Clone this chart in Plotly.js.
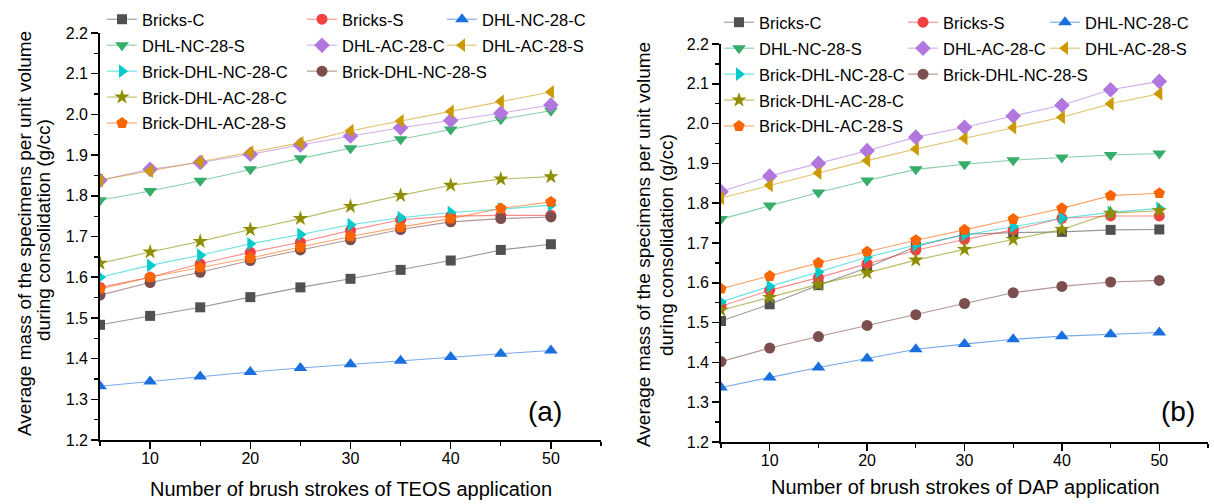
<!DOCTYPE html>
<html><head><meta charset="utf-8">
<script src="https://cdn.plot.ly/plotly-3.0.1.min.js"></script>
<style>html,body{margin:0;padding:0;background:#fff}#chart{width:1214px;height:504px}</style>
</head><body><div id="chart"></div>
<script>
// ---- data ----
const strokes = [5, 10, 15, 20, 25, 30, 35, 40, 45, 50];
const seriesNames = ['Bricks-C','Bricks-S','DHL-NC-28-C','DHL-NC-28-S','DHL-AC-28-C','DHL-AC-28-S',
  'Brick-DHL-NC-28-C','Brick-DHL-NC-28-S','Brick-DHL-AC-28-C','Brick-DHL-AC-28-S'];

// (a) TEOS application
const teosBricksC   = [1.483,1.505,1.526,1.551,1.575,1.596,1.618,1.641,1.667,1.681];
const teosBricksS   = [1.575,1.600,1.633,1.661,1.686,1.715,1.741,1.750,1.752,1.752];
const teosDhlNcC    = [1.332,1.344,1.356,1.367,1.377,1.386,1.395,1.404,1.412,1.420];
const teosDhlNcS    = [1.789,1.812,1.837,1.865,1.892,1.917,1.939,1.963,1.988,2.009];
const teosDhlAcC    = [1.838,1.865,1.882,1.902,1.925,1.947,1.967,1.985,2.003,2.023];
const teosDhlAcS    = [1.838,1.861,1.884,1.907,1.930,1.960,1.984,2.007,2.032,2.055];
const teosBrNcC     = [1.600,1.629,1.654,1.682,1.705,1.729,1.746,1.759,1.767,1.777];
const teosBrNcS     = [1.556,1.587,1.612,1.641,1.667,1.692,1.717,1.736,1.744,1.748];
const teosBrAcC     = [1.634,1.662,1.688,1.717,1.744,1.774,1.801,1.826,1.841,1.847];
const teosBrAcS     = [1.571,1.600,1.624,1.647,1.674,1.700,1.723,1.744,1.769,1.785];

// (b) DAP application
const dapBricksC    = [1.504,1.546,1.594,1.638,1.691,1.722,1.726,1.728,1.733,1.734];
const dapBricksS    = [1.541,1.581,1.613,1.648,1.682,1.709,1.733,1.762,1.768,1.768];
const dapDhlNcC     = [1.337,1.362,1.387,1.410,1.433,1.446,1.458,1.466,1.471,1.475];
const dapDhlNcS     = [1.760,1.794,1.827,1.857,1.885,1.898,1.908,1.915,1.921,1.925];
const dapDhlAcC     = [1.829,1.868,1.900,1.932,1.966,1.991,2.019,2.046,2.085,2.106];
const dapDhlAcS     = [1.813,1.845,1.876,1.907,1.936,1.963,1.990,2.016,2.050,2.075];
const dapBrNcC      = [1.552,1.591,1.627,1.664,1.695,1.720,1.741,1.762,1.777,1.787];
const dapBrNcS      = [1.402,1.436,1.465,1.493,1.520,1.548,1.575,1.591,1.602,1.606];
const dapBrAcC      = [1.531,1.563,1.596,1.625,1.657,1.684,1.709,1.734,1.775,1.781];
const dapBrAcS      = [1.585,1.617,1.650,1.678,1.707,1.733,1.760,1.787,1.819,1.825];

const xTitleA = 'Number of brush strokes of TEOS application';
const xTitleB = 'Number of brush strokes of DAP application';
const yTitle1 = 'Average mass of the specimens per unit volume';
const yTitle2 = 'during consolidation (g/cc)';

// ---- styles ----
const teosSeries = [teosBricksC,teosBricksS,teosDhlNcC,teosDhlNcS,teosDhlAcC,teosDhlAcS,teosBrNcC,teosBrNcS,teosBrAcC,teosBrAcS];
const dapSeries  = [dapBricksC,dapBricksS,dapDhlNcC,dapDhlNcS,dapDhlAcC,dapDhlAcS,dapBrNcC,dapBrNcS,dapBrAcC,dapBrAcS];
const colors  = ['#515151','#F14040','#1A6FDF','#37AD6B','#B177DE','#CC9900','#00CBCC','#7D4E4E','#8E8E00','#FB6501'];
const symbols = ['square','circle','triangle-up','triangle-down','diamond','triangle-left','triangle-right','circle','star','pentagon'];
const sizes   = [10,11,12,12,12,12,12,11,11.5,12];
const legendCol = [0,1,2,0,1,2,0,1,0,0];

function hexA(h, a){const r=parseInt(h.slice(1,3),16),g=parseInt(h.slice(3,5),16),b=parseInt(h.slice(5,7),16);return `rgba(${r},${g},${b},${a})`;}

const legNamesA = ['legend','legend2','legend3'];
const legNamesB = ['legend4','legend5','legend6'];
const traces = [];
function addPanel(series, xa, ya, legs, tag){
  series.forEach((ys,i)=>{
    traces.push({
      type:'scatter', mode:'lines+markers', x:strokes, y:ys, name:seriesNames[i],
      xaxis:xa, yaxis:ya, legend:legs[legendCol[i]], legendgroup:tag+i,
      line:{color:hexA(colors[i],0.6), width:1.1},
      marker:{symbol:symbols[i], size:sizes[i], color:colors[i], line:{width:0}}
    });
  });
}
addPanel(teosSeries,'x','y',legNamesA,'a');
addPanel(dapSeries,'x2','y2',legNamesB,'b');

const W=1214, H=504;
const px = v => v/W, py = v => 1 - v/H;
const FONT = 'Liberation Sans, Arial, sans-serif';

function xAxis(d0,d1,anchor){return {domain:[px(d0),px(d1)], range:[5,55], anchor:anchor, showline:true, linecolor:'#000', linewidth:1.8,
  ticks:'outside', ticklen:7, tickwidth:1.5, tickcolor:'#000', tick0:0, dtick:10, showgrid:false, zeroline:false, ticklabelstandoff:-4,
  tickfont:{size:16,color:'#000',family:FONT}, minor:{ticks:'outside', ticklen:4, tickwidth:1.3, tickcolor:'#000', dtick:5, tick0:0, showgrid:false}};}
function yAxis(top,bot,anchor){return {domain:[py(bot),py(top)], range:[1.2,2.2], anchor:anchor, showline:true, linecolor:'#000', linewidth:1.8,
  ticks:'outside', ticklen:7, tickwidth:1.5, tickcolor:'#000', tick0:1.2, dtick:0.1, tickformat:'.1f', showgrid:false, zeroline:false,
  tickfont:{size:16,color:'#000',family:FONT}, minor:{ticks:'outside', ticklen:4, tickwidth:1.3, tickcolor:'#000', dtick:0.05, tick0:1.2, showgrid:false}};}

function leg(xLeft, yTop){return {x:px(xLeft), y:py(yTop), xanchor:'left', yanchor:'top', bgcolor:'rgba(0,0,0,0)', borderwidth:0,
  font:{size:16.5,color:'#000',family:FONT}, tracegroupgap:1.5, traceorder:'grouped', itemwidth:30};}

const ann = (text,x,y,size,angle)=>({text:text, x:px(x), y:py(y), xref:'paper', yref:'paper', showarrow:false,
  xanchor:'center', yanchor:'middle', textangle:angle||0, font:{size:size,color:'#000',family:FONT}});

const layout = {
  width:W, height:H, margin:{l:0,r:0,t:0,b:0}, paper_bgcolor:'#fff', plot_bgcolor:'rgba(0,0,0,0)',
  font:{family:FONT,color:'#000'}, showlegend:true,
  xaxis:xAxis(100,601,'y'), yaxis:yAxis(33,440,'x'),
  xaxis2:xAxis(721,1208,'y2'), yaxis2:yAxis(44,442,'x2'),
  legend:leg(102,2), legend2:leg(302,2), legend3:leg(442,2),
  legend4:leg(719,5), legend5:leg(903,5), legend6:leg(1045,5),
  annotations:[
    ann('(a)',545,411,28), ann('(b)',1178,411,28),
    ann(xTitleA,351,489,20), ann(xTitleB,965,487,20),
    ann(yTitle1,24,234,19,-90), ann(yTitle2,44,230,19,-90),
    ann(yTitle1,643,245,19,-90), ann(yTitle2,666,245,19,-90)
  ]
};
Plotly.newPlot('chart', traces, layout, {displayModeBar:false, staticPlot:true});
</script></body></html>
